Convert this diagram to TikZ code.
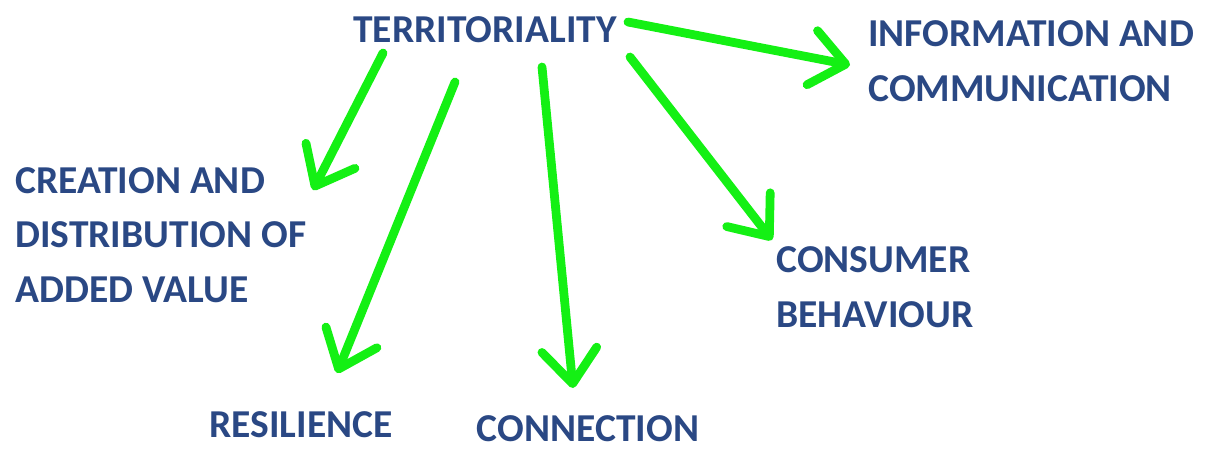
\documentclass[tikz,border=0pt]{standalone}
\usepackage{fontspec}
\setmainfont{Carlito}
\usepackage{tikz}
\usetikzlibrary{calc}
\usetikzlibrary{arrows.meta}
\definecolor{topicblue}{RGB}{42,72,132}
\definecolor{arrowgreen}{RGB}{20,240,20}
\tikzstyle{topic} = [inner sep=0pt, text=topicblue, font=\fontsize{22.5}{31}\selectfont\bfseries, align=left]
\tikzstyle{greenarrow} = [draw=arrowgreen, line width=5pt, line cap=round, -{Straight Barb[length=0.68cm,width=1.1cm,round]}]

\begin{document}
\begin{tikzpicture}[x=0.02cm,y=-0.02cm]
\useasboundingbox (0,0) rectangle (1212,453);
\node(terr)[topic] at (485,30) {TERRITORIALITY};
\node(info)[topic,anchor=west] at (868,61) {INFORMATION AND\\COMMUNICATION};
\node(crea)[topic,anchor=west] at (15,235) {CREATION AND\\DISTRIBUTION OF\\ADDED VALUE};
\node(cons)[topic,anchor=west] at (776,287) {CONSUMER\\BEHAVIOUR};
\node(resi)[topic] at (301,425) {RESILIENCE};
\node(conn)[topic] at (588,429) {CONNECTION};

\draw[greenarrow] ([shift={(-102,23)}]terr.center) -- ([shift={(298,-45)}]crea.west);
\draw[greenarrow] ([shift={(-30,52)}]terr.center) -- ([shift={(36,-52)}]resi.center);
\draw[greenarrow] ([shift={(57,37)}]terr.center) -- ([shift={(-15,-41)}]conn.center);
\draw[greenarrow] ([shift={(145,27)}]terr.center) -- ([shift={(-4,-47)}]cons.west);
\draw[greenarrow] ([shift={(143,-8)}]terr.center) -- ([shift={(-18,4)}]info.west);


\end{tikzpicture}
\end{document}
